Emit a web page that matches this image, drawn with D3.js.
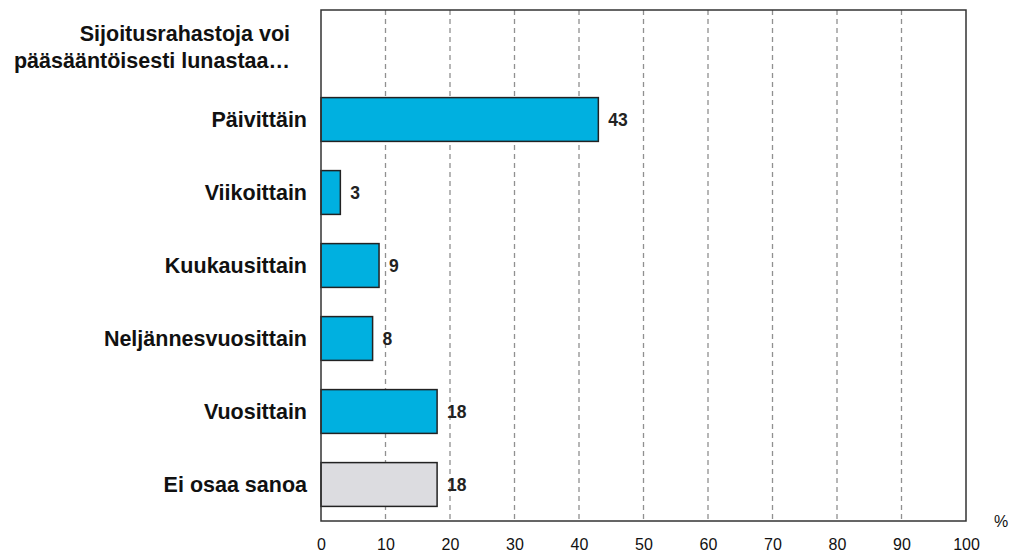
<!DOCTYPE html>
<html>
<head>
<meta charset="utf-8">
<script src="https://cdn.jsdelivr.net/npm/d3@7"></script>
<style>
    body { margin: 0; background: #fff; }
    svg { font-family: "Liberation Sans", Arial, sans-serif; }
</style>
</head>
<body>
<svg id="chart" width="1011" height="552"></svg>
<script>
    "use strict";

    var titleLines = ["Sijoitusrahastoja voi", "pääsääntöisesti lunastaa…"];
    var categories = ["Päivittäin", "Viikoittain", "Kuukausittain", "Neljännesvuosittain", "Vuosittain", "Ei osaa sanoa"];
    var values = [43, 3, 9, 8, 18, 18];
    var barColors = ["#00b0e0", "#00b0e0", "#00b0e0", "#00b0e0", "#00b0e0", "#dcdce0"];
    var xTicks = [0, 10, 20, 30, 40, 50, 60, 70, 80, 90, 100];

    var ch = {margin: {top: 10, right: 45, bottom: 31, left: 321}};
    ch.svg = d3.select("#chart");
    ch.width = +ch.svg.attr("width") - ch.margin.left - ch.margin.right;
    ch.height = +ch.svg.attr("height") - ch.margin.top - ch.margin.bottom;

    ch.x = d3.scaleLinear().domain([0, 100]).range([0, ch.width]);
    // first band is reserved for the title text
    ch.y = d3.scaleBand()
        .domain(["__title"].concat(categories))
        .range([0, ch.height])
        .paddingInner(0.4)
        .paddingOuter(0.2);

    ch.g = ch.svg.append("g")
        .attr("transform", "translate(" + ch.margin.left + "," + ch.margin.top + ")");

    // dashed gridlines
    ch.g.selectAll(".grid")
        .data(xTicks.filter(function (d) { return d > 0 && d < 100; }))
        .enter().append("line")
        .attr("class", "grid")
        .attr("x1", function (d) { return ch.x(d); })
        .attr("x2", function (d) { return ch.x(d); })
        .attr("y1", 0)
        .attr("y2", ch.height)
        .attr("stroke", "#909090")
        .attr("stroke-width", 1.3)
        .attr("stroke-dasharray", "5,4");

    // bars
    ch.g.selectAll(".bar")
        .data(values)
        .enter().append("rect")
        .attr("class", "bar")
        .attr("x", ch.x(0))
        .attr("y", function (d, i) { return ch.y(categories[i]); })
        .attr("width", function (d) { return ch.x(d) - ch.x(0); })
        .attr("height", ch.y.bandwidth())
        .attr("fill", function (d, i) { return barColors[i]; })
        .attr("stroke", "#222")
        .attr("stroke-width", 1.5);

    // value labels
    ch.g.selectAll(".val")
        .data(values)
        .enter().append("text")
        .attr("class", "val")
        .attr("x", function (d) { return ch.x(d) + 10; })
        .attr("y", function (d, i) { return ch.y(categories[i]) + ch.y.bandwidth() / 2; })
        .attr("dy", "0.36em")
        .attr("font-size", 17.5)
        .attr("font-weight", "bold")
        .attr("fill", "#222")
        .text(function (d) { return d; });

    // category labels
    ch.g.selectAll(".cat")
        .data(categories)
        .enter().append("text")
        .attr("class", "cat")
        .attr("x", -14)
        .attr("y", function (d) { return ch.y(d) + ch.y.bandwidth() / 2; })
        .attr("dy", "0.36em")
        .attr("text-anchor", "end")
        .attr("font-size", 21.5)
        .attr("font-weight", "bold")
        .attr("fill", "#111")
        .text(function (d) { return d; });

    // title in the first band
    ch.g.append("text")
        .attr("x", -31)
        .attr("y", ch.y("__title") + ch.y.bandwidth() / 2)
        .attr("text-anchor", "end")
        .attr("font-size", 21.5)
        .attr("font-weight", "bold")
        .attr("fill", "#111")
        .selectAll("tspan")
        .data(titleLines)
        .enter().append("tspan")
        .attr("x", -31)
        .attr("dy", function (d, i) { return i === 0 ? -5.5 : 27; })
        .text(function (d) { return d; });

    // frame
    ch.g.append("rect")
        .attr("width", ch.width)
        .attr("height", ch.height)
        .attr("fill", "none")
        .attr("stroke", "#333")
        .attr("stroke-width", 1.5);

    // x axis
    ch.xAxis = d3.axisBottom(ch.x).tickValues(xTicks).tickSize(0).tickPadding(18);
    ch.g.append("g")
        .attr("transform", "translate(0," + ch.height + ")")
        .call(ch.xAxis)
        .call(function (g) { g.select(".domain").remove(); })
        .selectAll("text")
        .attr("font-family", "Liberation Sans, Arial, sans-serif")
        .attr("font-size", 16)
        .attr("fill", "#111");

    ch.g.append("text")
        .attr("x", ch.width + 35)
        .attr("y", ch.height + 6)
        .attr("text-anchor", "middle")
        .attr("font-size", 16)
        .attr("fill", "#111")
        .text("%");
</script>
</body>
</html>
